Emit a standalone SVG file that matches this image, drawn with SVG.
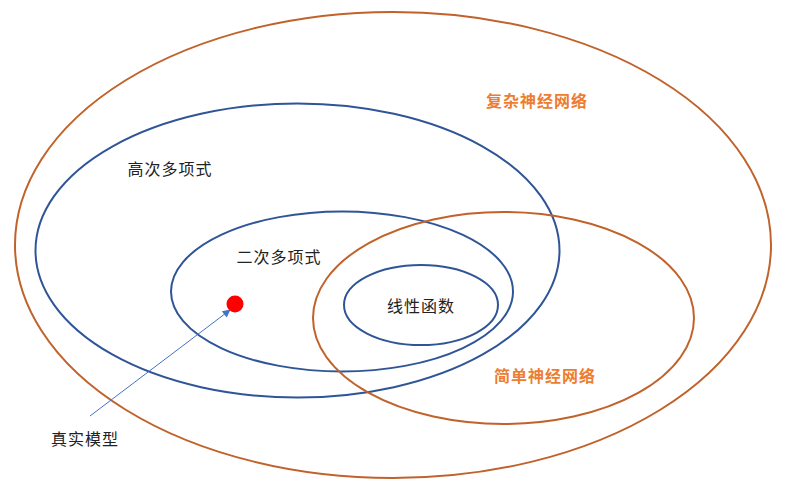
<svg xmlns="http://www.w3.org/2000/svg" width="800" height="494" viewBox="0 0 800 494">
<style>
.brown{fill:none;stroke:#C0622A;stroke-width:2}
.blue{fill:none;stroke:#2F5597;stroke-width:2}
.lbl{font-family:"Noto Sans CJK SC","Noto Sans",sans-serif;font-size:16px;fill:#222;text-anchor:middle;dominant-baseline:central;letter-spacing:1px}
.or{font-family:"Noto Sans CJK SC","Noto Sans",sans-serif;font-size:16px;font-weight:bold;fill:#ED7D31;text-anchor:middle;dominant-baseline:central;letter-spacing:1px}
</style>
<defs>
<marker id="ah" viewBox="0 0 10 10" refX="9" refY="5" markerWidth="10" markerHeight="8" markerUnits="userSpaceOnUse" orient="auto"><path d="M0,0 L10,5 L0,10 z" fill="#4472C4"/></marker>
</defs>
<rect width="800" height="494" fill="#fff"/>
<g id="complex-nn"><ellipse class="brown" cx="393" cy="245" rx="378" ry="233"/><text class="or" x="537" y="100">复杂神经网络</text></g>
<g id="high-poly"><ellipse class="blue" cx="297.5" cy="250.5" rx="262" ry="147"/><text class="lbl" x="170" y="168">高次多项式</text></g>
<g id="quad-poly"><ellipse class="blue" cx="342" cy="291.5" rx="171" ry="80"/><text class="lbl" x="279" y="256">二次多项式</text></g>
<g id="simple-nn"><ellipse class="brown" cx="503.5" cy="318" rx="190.5" ry="106"/><text class="or" x="545" y="375">简单神经网络</text></g>
<g id="linear"><ellipse class="blue" cx="421" cy="305" rx="77" ry="40"/><text class="lbl" x="421" y="305">线性函数</text></g>
<g id="true-model"><circle cx="235" cy="304" r="8.5" fill="#FF0000"/><text class="lbl" x="85" y="438">真实模型</text></g>
<g id="connectors"><line x1="90" y1="416" x2="230" y2="310" stroke="#4472C4" stroke-width="1" marker-end="url(#ah)"/></g>
</svg>
